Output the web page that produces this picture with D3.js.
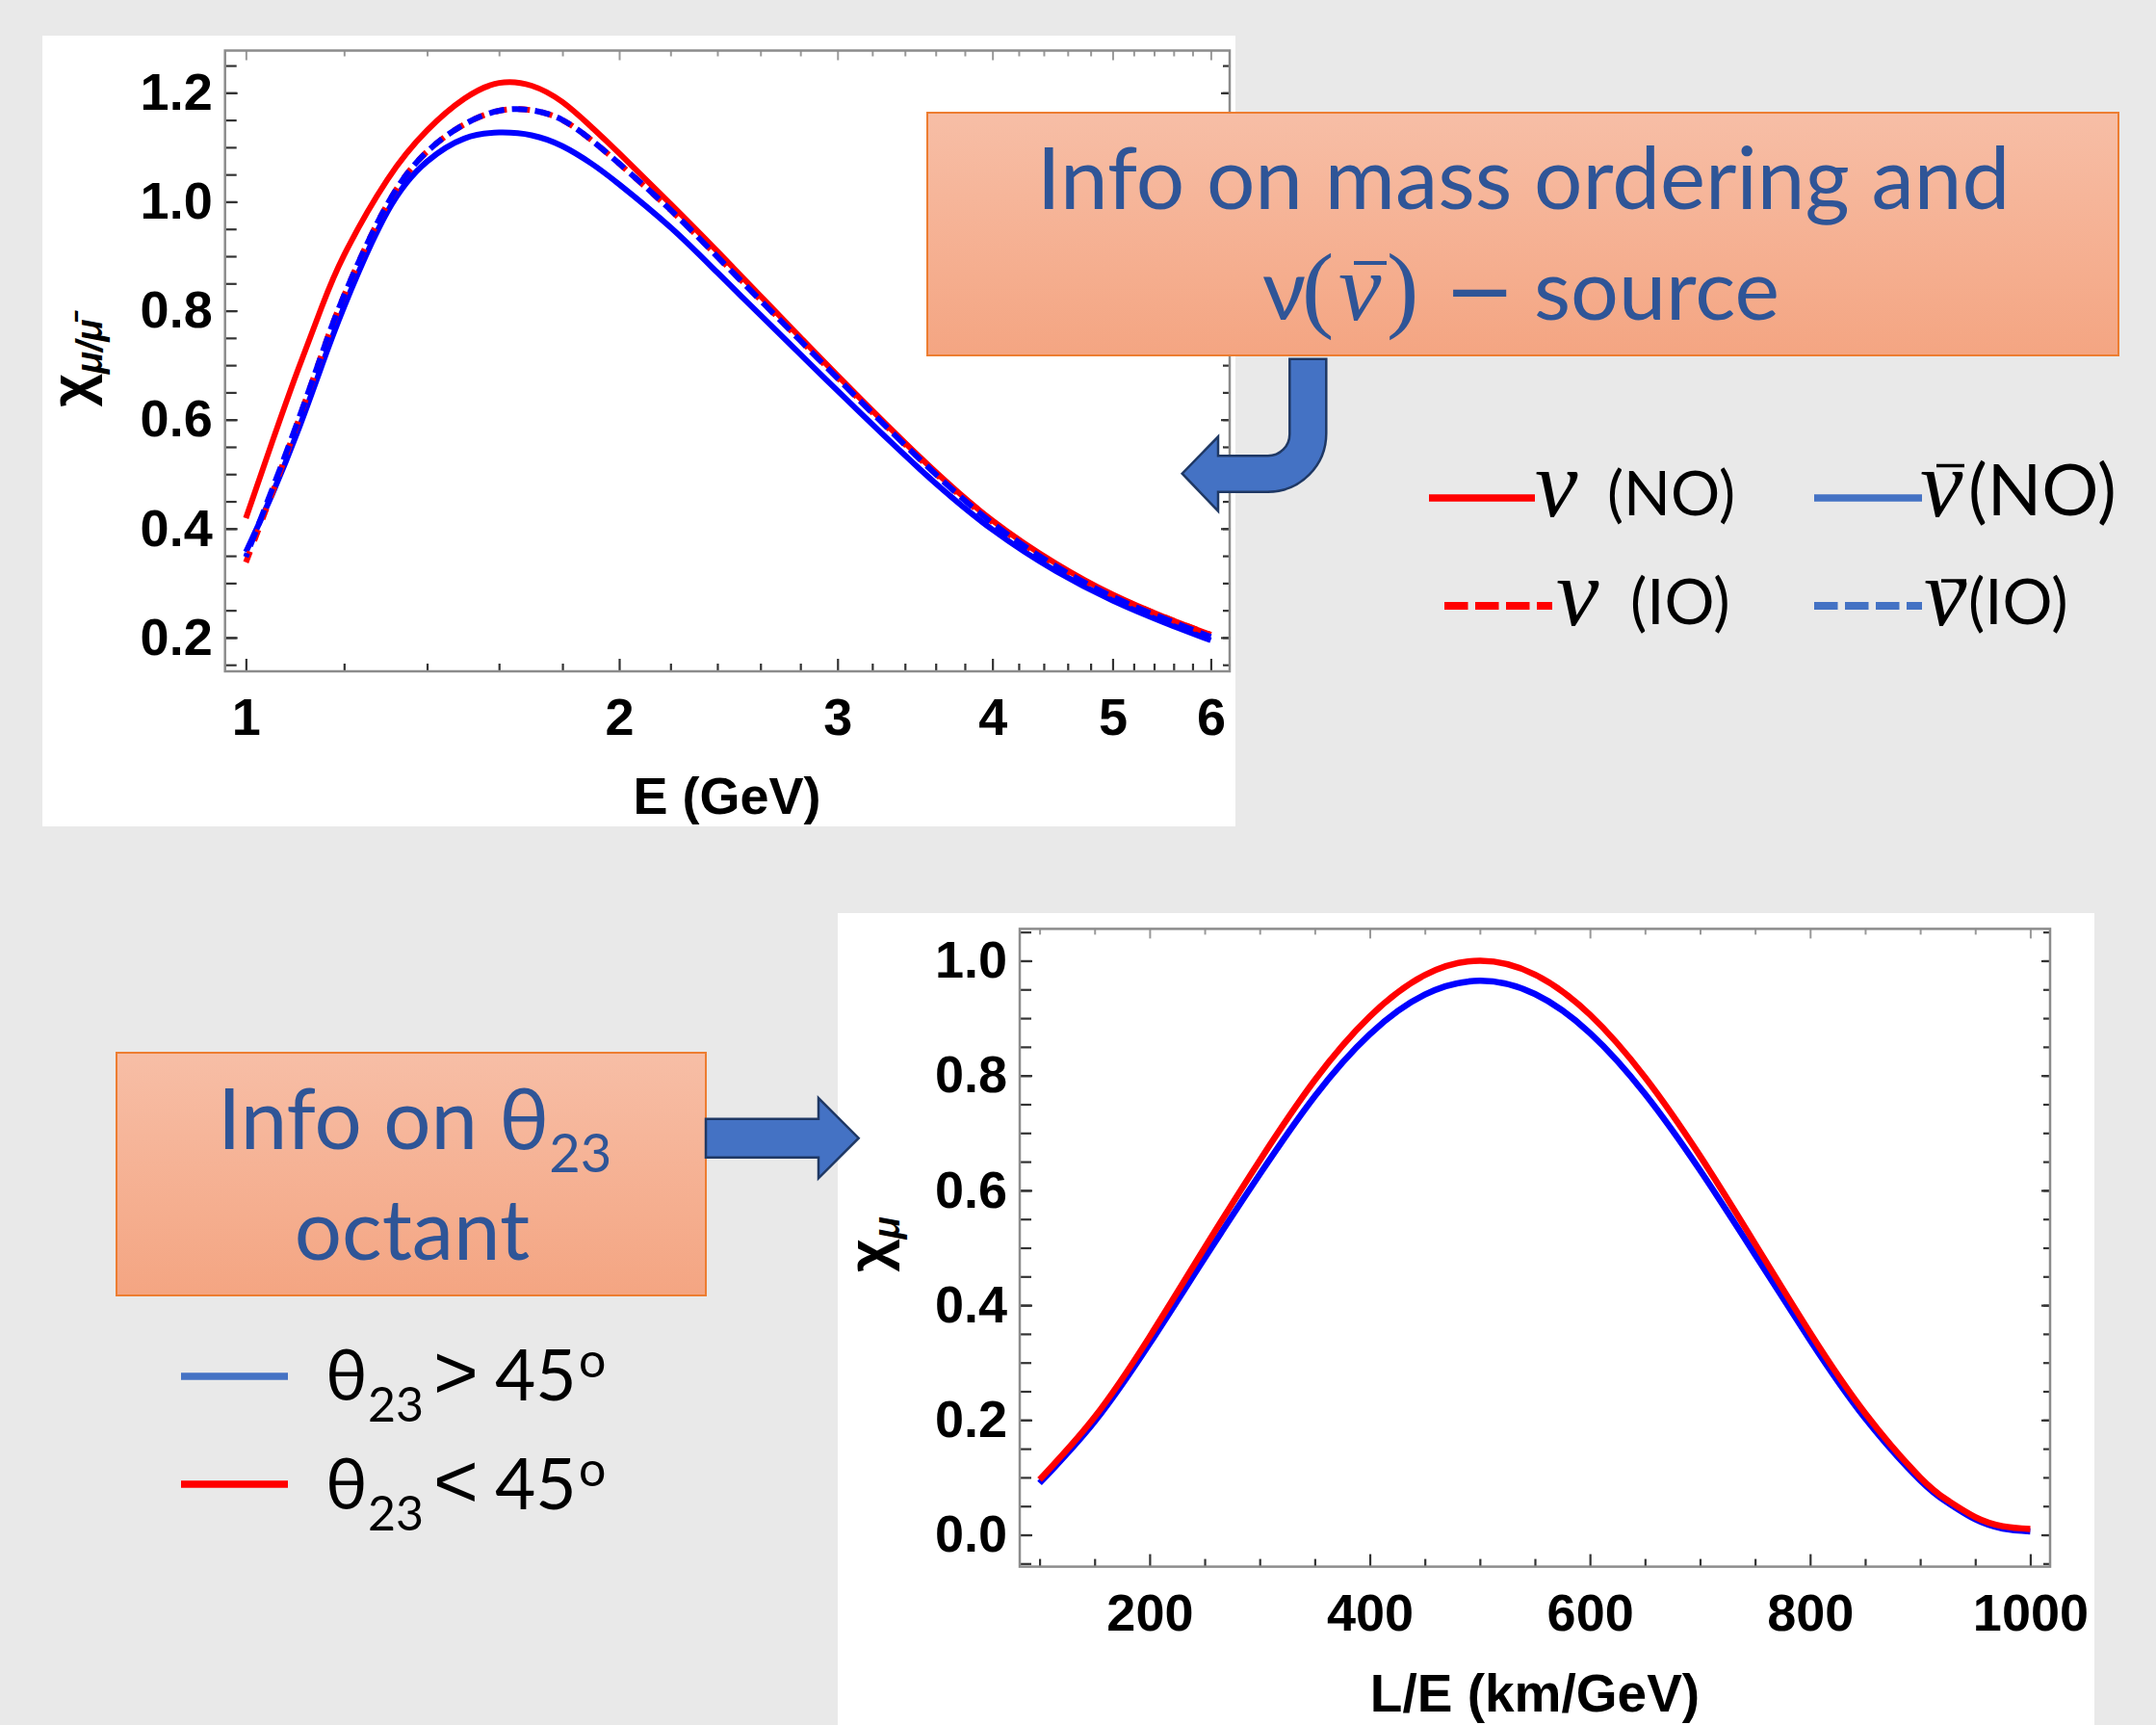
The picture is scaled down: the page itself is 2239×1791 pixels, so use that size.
<!DOCTYPE html>
<html>
<head>
<meta charset="utf-8">
<script src="https://cdn.jsdelivr.net/npm/d3@7"></script>
<style>
  body { margin: 0; background: #e9e9e9; }
  svg { display: block; }
  .tick text { font-family: "Liberation Sans", Arial, sans-serif; font-weight: bold; font-size: 54px; fill: #000; }
  .callout { font-family: Lato, "Open Sans", "Noto Sans", sans-serif; fill: #2f5597; }
  .legend { font-family: Lato, "Open Sans", "Noto Sans", sans-serif; fill: #000; }
  .mathit { font-family: "Liberation Serif", "DejaVu Serif", serif; font-style: italic; }
</style>
</head>
<body>
<div id="chart"></div>
<script>
// ---- data ----
// top panel: chi vs E (GeV), log x
var energy  = [1.0, 1.05, 1.1, 1.15, 1.2, 1.3, 1.4, 1.5, 1.6, 1.7, 1.8, 1.9, 2.0, 2.2, 2.4, 2.6, 2.8, 3.0, 3.5, 4.0, 4.5, 5.0, 5.5, 6.0];
var nuNO    = [0.419, 0.559, 0.688, 0.804, 0.902, 1.040, 1.131, 1.189, 1.218, 1.213, 1.183, 1.137, 1.089, 0.996, 0.909, 0.827, 0.751, 0.681, 0.530, 0.415, 0.336, 0.279, 0.238, 0.205];
var nuIO    = [0.338, 0.465, 0.592, 0.717, 0.828, 0.995, 1.092, 1.142, 1.167, 1.168, 1.150, 1.113, 1.070, 0.985, 0.900, 0.820, 0.746, 0.677, 0.527, 0.412, 0.334, 0.278, 0.238, 0.205];
var nubarNO = [0.357, 0.463, 0.576, 0.696, 0.807, 0.981, 1.074, 1.116, 1.127, 1.122, 1.102, 1.070, 1.032, 0.953, 0.870, 0.792, 0.720, 0.653, 0.508, 0.398, 0.322, 0.268, 0.228, 0.195];
var nubarIO = [0.348, 0.472, 0.594, 0.717, 0.828, 0.995, 1.092, 1.142, 1.167, 1.168, 1.150, 1.113, 1.070, 0.985, 0.899, 0.819, 0.745, 0.676, 0.526, 0.410, 0.331, 0.275, 0.235, 0.201];

// bottom panel: chi_mu vs L/E (km/GeV)
var lOverE   = [100, 150, 200, 250, 300, 350, 400, 450, 500, 550, 600, 650, 700, 750, 800, 850, 900, 925, 950, 975, 1000];
var octLower = [0.096, 0.205, 0.345, 0.500, 0.652, 0.792, 0.903, 0.975, 1.000, 0.976, 0.906, 0.797, 0.660, 0.507, 0.352, 0.212, 0.100, 0.060, 0.031, 0.015, 0.010];
var octUpper = [0.090, 0.197, 0.333, 0.482, 0.628, 0.764, 0.872, 0.941, 0.965, 0.942, 0.874, 0.768, 0.635, 0.488, 0.339, 0.203, 0.095, 0.056, 0.027, 0.011, 0.006];

// tick labels
var eTicks = [1, 2, 3, 4, 5, 6];
var chiTopTicks = [0.2, 0.4, 0.6, 0.8, 1.0, 1.2];
var leTicks = [200, 400, 600, 800, 1000];
var chiBotTicks = [0.0, 0.2, 0.4, 0.6, 0.8, 1.0];

var W = 2239, H = 1791;

var svg = d3.select("#chart").append("svg")
  .attr("width", W)
  .attr("height", H);

svg.append("rect").attr("width", W).attr("height", H).attr("fill", "#e9e9e9");

var defs = svg.append("defs");
var grad = defs.append("linearGradient")
  .attr("id", "boxGrad").attr("x1", 0).attr("y1", 0).attr("x2", 0).attr("y2", 1);
grad.append("stop").attr("offset", "0%").attr("stop-color", "#f7bea6");
grad.append("stop").attr("offset", "100%").attr("stop-color", "#f4a582");

// white panels behind the two plots
svg.append("rect").attr("x", 44).attr("y", 37).attr("width", 1239).attr("height", 821).attr("fill", "#fff");
svg.append("rect").attr("x", 870).attr("y", 948).attr("width", 1305).attr("height", 843).attr("fill", "#fff");

// scales
var xE = d3.scaleLog().domain([0.962, 6.214]).range([233.7, 1277]);
var yTop = d3.scaleLinear().domain([0.138, 1.2775]).range([697, 52.5]);

var xLE = d3.scaleLinear().domain([82, 1018]).range([1059, 2129]);
var yBot = d3.scaleLinear().domain([-0.0555, 1.0555]).range([1626.6, 964.4]);

// mathematica style frame with inward ticks on all four sides
function drawFrame(g, x, y, xMajor, xMinor, yMajor, yMinor, xFmt, yFmt) {
  var x0 = x.range()[0], x1 = x.range()[1];
  var y0 = y.range()[0], y1 = y.range()[1];

  g.append("g").attr("transform", `translate(0,${y0})`)
    .call(d3.axisBottom(x).tickValues(xMinor).tickSize(-8).tickFormat(""))
    .attr("class", "dark");
  g.append("g").attr("transform", `translate(0,${y0})`)
    .call(d3.axisBottom(x).tickValues(xMajor).tickSize(-13).tickPadding(28).tickFormat(xFmt))
    .attr("class", "dark");
  g.append("g").attr("transform", `translate(0,${y1})`)
    .call(d3.axisTop(x).tickValues(xMinor).tickSize(-6).tickFormat(""))
    .attr("class", "light");
  g.append("g").attr("transform", `translate(0,${y1})`)
    .call(d3.axisTop(x).tickValues(xMajor).tickSize(-10).tickFormat(""))
    .attr("class", "light");

  g.append("g").attr("transform", `translate(${x0},0)`)
    .call(d3.axisLeft(y).tickValues(yMinor).tickSize(-12).tickFormat(""))
    .attr("class", "dark");
  g.append("g").attr("transform", `translate(${x0},0)`)
    .call(d3.axisLeft(y).tickValues(yMajor).tickSize(-13).tickPadding(13).tickFormat(yFmt))
    .attr("class", "dark");
  g.append("g").attr("transform", `translate(${x1},0)`)
    .call(d3.axisRight(y).tickValues(yMinor).tickSize(-7).tickFormat(""))
    .attr("class", "dark");
  g.append("g").attr("transform", `translate(${x1},0)`)
    .call(d3.axisRight(y).tickValues(yMajor).tickSize(-9).tickFormat(""))
    .attr("class", "dark");

  g.selectAll(".domain").remove();
  g.selectAll(".dark .tick line").attr("stroke", "#333").attr("stroke-width", 2.2);
  g.selectAll(".light .tick line").attr("stroke", "#999").attr("stroke-width", 2);

  g.append("rect")
    .attr("x", x0).attr("y", y1)
    .attr("width", x1 - x0).attr("height", y0 - y1)
    .attr("fill", "none").attr("stroke", "#8c8c8c").attr("stroke-width", 2.5);
}

// ---------- top plot ----------
var topG = svg.append("g");

var eMinor = d3.range(1, 6).flatMap(k => [0.2, 0.4, 0.6, 0.8].map(f => +(k + f).toFixed(1)));
var chiTopMinor = d3.range(0.15, 1.27, 0.05).map(v => +v.toFixed(2));

drawFrame(topG, xE, yTop, eTicks, eMinor, chiTopTicks, chiTopMinor, d3.format("d"), d3.format(".1f"));

var lineTop = d3.line()
  .x(d => xE(d[0]))
  .y(d => yTop(d[1]))
  .curve(d3.curveNatural);

function zipE(vals) { return energy.map((e, i) => [e, vals[i]]); }

topG.append("path").datum(zipE(nuNO))
  .attr("d", lineTop).attr("fill", "none").attr("stroke", "#ff0000").attr("stroke-width", 6);
topG.append("path").datum(zipE(nubarNO))
  .attr("d", lineTop).attr("fill", "none").attr("stroke", "#0000ff").attr("stroke-width", 6);
topG.append("path").datum(zipE(nuIO))
  .attr("d", lineTop).attr("fill", "none").attr("stroke", "#ff0000").attr("stroke-width", 6)
  .attr("stroke-dasharray", "12 12");
topG.append("path").datum(zipE(nubarIO))
  .attr("d", lineTop).attr("fill", "none").attr("stroke", "#0000ff").attr("stroke-width", 6)
  .attr("stroke-dasharray", "16 8").attr("stroke-dashoffset", -12);

// axis titles
topG.append("text")
  .attr("x", 755).attr("y", 845)
  .attr("text-anchor", "middle")
  .style("font-family", "'Liberation Sans', Arial, sans-serif")
  .style("font-weight", "bold").style("font-size", "54px")
  .text("E (GeV)");

var ylTop = topG.append("text")
  .attr("transform", "translate(94,377) rotate(-90)")
  .attr("text-anchor", "middle")
  .style("font-family", "'Liberation Sans', Arial, sans-serif")
  .style("font-weight", "bold").style("font-size", "60px");
ylTop.append("tspan").text("χ");
ylTop.append("tspan").attr("dy", 12)
  .style("font-size", "38px").style("font-style", "italic")
  .text("μ/μ\u0304");

// ---------- bottom plot ----------
var botG = svg.append("g");

var leMinor = d3.range(100, 1001, 50).filter(v => v % 200 !== 0);
var chiBotMinor = d3.range(-0.05, 1.06, 0.05).map(v => +v.toFixed(2));

drawFrame(botG, xLE, yBot, leTicks, leMinor, chiBotTicks, chiBotMinor, d3.format("d"), d3.format(".1f"));

var lineBot = d3.line()
  .x(d => xLE(d[0]))
  .y(d => yBot(d[1]))
  .curve(d3.curveNatural);

botG.append("path").datum(lOverE.map((v, i) => [v, octUpper[i]]))
  .attr("d", lineBot).attr("fill", "none").attr("stroke", "#0000ff").attr("stroke-width", 6.5);
botG.append("path").datum(lOverE.map((v, i) => [v, octLower[i]]))
  .attr("d", lineBot).attr("fill", "none").attr("stroke", "#ff0000").attr("stroke-width", 6.5);

botG.append("text")
  .attr("x", 1594).attr("y", 1777)
  .attr("text-anchor", "middle")
  .style("font-family", "'Liberation Sans', Arial, sans-serif")
  .style("font-weight", "bold").style("font-size", "55px")
  .text("L/E (km/GeV)");

var ylBot = botG.append("text")
  .attr("transform", "translate(922,1292) rotate(-90)")
  .attr("text-anchor", "middle")
  .style("font-family", "'Liberation Sans', Arial, sans-serif")
  .style("font-weight", "bold").style("font-size", "60px");
ylBot.append("tspan").text("χ");
ylBot.append("tspan").attr("dy", 12)
  .style("font-size", "38px").style("font-style", "italic")
  .text("μ");

// ---------- callout boxes ----------
svg.append("rect")
  .attr("x", 963).attr("y", 117).attr("width", 1237).attr("height", 252)
  .attr("fill", "url(#boxGrad)").attr("stroke", "#ed7d31").attr("stroke-width", 2);

svg.append("text").attr("class", "callout")
  .attr("x", 1582).attr("y", 217)
  .attr("text-anchor", "middle")
  .style("font-size", "89px")
  .text("Info on mass ordering and");

var line2 = svg.append("text").attr("class", "callout").attr("y", 332).style("font-size", "88px");
line2.append("tspan").attr("x", 1311).text("ν");
line2.append("tspan").attr("x", 1352).attr("class", "mathit").style("font-style", "normal").style("font-size", "100px").text("(");
line2.append("tspan").attr("x", 1390).attr("class", "mathit").style("font-size", "100px").text("ν");
line2.append("tspan").attr("x", 1440).attr("class", "mathit").style("font-style", "normal").style("font-size", "100px").text(")");
line2.append("tspan").attr("x", 1500).style("font-family", "'DejaVu Sans', sans-serif").style("font-size", "88px").text("−");
line2.append("tspan").attr("x", 1593).text("source");
svg.append("line").attr("x1", 1406).attr("x2", 1440).attr("y1", 273).attr("y2", 273)
  .attr("stroke", "#2f5597").attr("stroke-width", 4);

svg.append("rect")
  .attr("x", 121).attr("y", 1093).attr("width", 612).attr("height", 252)
  .attr("fill", "url(#boxGrad)").attr("stroke", "#ed7d31").attr("stroke-width", 2);

var oct1 = svg.append("text").attr("class", "callout").attr("x", 226).attr("y", 1193).style("font-size", "87px");
oct1.append("tspan").text("Info on θ");
oct1.append("tspan").attr("dy", 24).style("font-size", "56px").text("23");
svg.append("text").attr("class", "callout")
  .attr("x", 428).attr("y", 1308).attr("text-anchor", "middle")
  .style("font-size", "87px").text("octant");

// ---------- arrows ----------
svg.append("path")
  .attr("d", "M1339.3,372.7 L1377.3,372.7 L1377.3,450 A60.7,60.7 0 0 1 1316.7,510.7 L1265,510.7 L1265,530.7 L1227.7,491.7 L1265,453.3 L1265,473.3 L1316.7,473.3 A22.6,22.6 0 0 0 1339.3,450.7 Z")
  .attr("fill", "#4472c4").attr("stroke", "#1f3864").attr("stroke-width", 2.5);

svg.append("path")
  .attr("d", "M733,1161.7 L850,1161.7 L850,1140 L891.7,1181.7 L850,1223.3 L850,1201.7 L733,1201.7 Z")
  .attr("fill", "#4472c4").attr("stroke", "#1f3864").attr("stroke-width", 2.5);

// ---------- legend, top right ----------
var legTop = svg.append("g");

function nuLabel(g, x, baseline, size, bar) {
  g.append("text").attr("class", "legend mathit")
    .attr("x", x).attr("y", baseline)
    .style("font-size", size + "px")
    .text("ν");
  if (bar) {
    g.append("line").attr("x1", bar[0]).attr("x2", bar[1]).attr("y1", bar[2]).attr("y2", bar[2])
      .attr("stroke", "#000").attr("stroke-width", 3.5);
  }
}

legTop.append("line").attr("x1", 1484).attr("x2", 1594).attr("y1", 517).attr("y2", 517)
  .attr("stroke", "#ff0000").attr("stroke-width", 7.5);
nuLabel(legTop, 1594, 536, 100, null);
legTop.append("text").attr("class", "legend").attr("x", 1669).attr("y", 535).style("font-size", "64px").text("(NO)");

legTop.append("line").attr("x1", 1884).attr("x2", 1996).attr("y1", 517).attr("y2", 517)
  .attr("stroke", "#4472c4").attr("stroke-width", 7.5);
nuLabel(legTop, 1994, 536, 100, [2011, 2040, 483.5]);
legTop.append("text").attr("class", "legend").attr("x", 2044).attr("y", 535).style("font-size", "74px").text("(NO)");

legTop.append("line").attr("x1", 1500).attr("x2", 1612).attr("y1", 629).attr("y2", 629)
  .attr("stroke", "#ff0000").attr("stroke-width", 8).attr("stroke-dasharray", "24.5 7.5");
nuLabel(legTop, 1616, 649, 100, null);
legTop.append("text").attr("class", "legend").attr("x", 1693).attr("y", 648).style("font-size", "65px").text("(IO)");

legTop.append("line").attr("x1", 1884).attr("x2", 1996).attr("y1", 629).attr("y2", 629)
  .attr("stroke", "#4472c4").attr("stroke-width", 8).attr("stroke-dasharray", "24.5 7.5");
nuLabel(legTop, 1998, 649, 100, [2016, 2042, 603]);
legTop.append("text").attr("class", "legend").attr("x", 2044).attr("y", 648).style("font-size", "65px").text("(IO)");

// ---------- legend, bottom left ----------
var legBot = svg.append("g");
var octRows = [
  { color: "#4472c4", y: 1429, base: 1454, sign: ">" },
  { color: "#ff0000", y: 1541, base: 1567, sign: "<" }
];
octRows.forEach(function(r) {
  legBot.append("line").attr("x1", 188).attr("x2", 299).attr("y1", r.y).attr("y2", r.y)
    .attr("stroke", r.color).attr("stroke-width", 7.7);
  var t = legBot.append("text").attr("class", "legend").style("font-size", "73px");
  t.append("tspan").attr("x", 338).attr("y", r.base).text("θ");
  t.append("tspan").attr("x", 382).attr("y", r.base + 22).style("font-size", "50px").text("23");
  t.append("tspan").attr("x", 450).attr("y", r.base - 2)
    .style("font-family", "'Liberation Sans', Arial, sans-serif").style("font-size", "80px").text(r.sign);
  t.append("tspan").attr("x", 514).attr("y", r.base).text("45");
  t.append("tspan").attr("x", 601).attr("y", r.base - 24).style("font-size", "50px").text("o");
});
</script>
</body>
</html>
